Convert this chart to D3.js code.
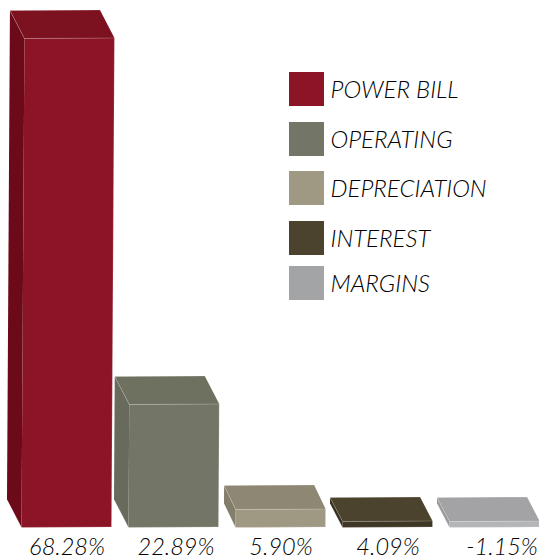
<!DOCTYPE html>
<html>
<head>
<meta charset="utf-8">
<script src="https://cdn.jsdelivr.net/npm/d3@7"></script>
<style>
    html, body { margin: 0; padding: 0; background: #fff; }
    text { font-family: "Lato", sans-serif; font-style: italic; font-weight: 300; fill: #000; }
</style>
</head>
<body>
<div id="wrapper"></div>
<script>
const categories = ["POWER BILL", "OPERATING", "DEPRECIATION", "INTEREST", "MARGINS"];
const values = [68.28, 22.89, 5.90, 4.09, -1.15];
const valueLabels = ["68.28%", "22.89%", "5.90%", "4.09%", "-1.15%"];

// front, top, side
const frontColors = ["#8b1526", "#737566", "#9f9883", "#3f3725", "#b4b5b6"];
const topColors = ["#7c1220", "#6e7060", "#8e8773", "#4c432e", "#a3a3a5"];
const sideColors = ["#6c0a19", "#686a5b", "#837e6b", "#37301f", "#9a9a9c"];
const legendColors = ["#8b1526", "#737566", "#9f9883", "#4c432e", "#a3a4a6"];

// the legend rows are not evenly spaced in the original
const legendTops = [72, 122, 171, 221, 266];
const labelShift = [0.5, 2.5, 0.5, 0.5, 7.5];

const width = 539, height = 559;
const baseline = 527.5;

const svg = d3.select("#wrapper")
    .append("svg")
    .attr("width", width)
    .attr("height", height)
    .style("display", "block");

const x = d3.scaleBand()
    .domain(categories)
    .range([21.5, 21.5 + 107 * 5 - 17])
    .paddingInner(17 / 107)
    .paddingOuter(0)
    .align(0);

// the bars in the picture are not to scale, so this is piecewise
const y = d3.scaleLinear()
    .domain([0, 1.15, 4.09, 5.90, 22.89, 68.28])
    .range([0, 6, 6, 18, 123, 489]);

const bars = svg.selectAll("g.bar")
    .data(categories)
    .enter()
    .append("g")
    .attr("class", "bar");

const poly = pts => pts.map(p => p.join(",")).join(" ");

bars.each(function(name, i) {
    const g = d3.select(this);
    const left = x(name);
    const w = x.bandwidth();
    const h = y(Math.abs(values[i]));
    const skew = h * 0.006;                 // slight lean to the right going up
    const dx = h > 100 ? 14.5 : (h > 10 ? 11.5 : 12.5);
    const dy = h > 100 ? 28 : 24;

    const fbl = [left, baseline];
    const fbr = [left + w, baseline - 0.5];
    const ftl = [left + skew, baseline - h];
    const ftr = [left + w + skew, baseline - h - 0.5];
    const btl = [ftl[0] - dx, ftl[1] - dy];
    const btr = [ftr[0] - dx, ftr[1] - dy];
    const bbl = [fbl[0] - dx, fbl[1] - dy];

    g.append("polygon").attr("points", poly([bbl, fbl, ftl, btl])).attr("fill", sideColors[i]);
    g.append("polygon").attr("points", poly([btl, btr, ftr, ftl])).attr("fill", topColors[i]);
    g.append("polygon").attr("points", poly([ftl, ftr, fbr, fbl])).attr("fill", frontColors[i]);

    // light bevel along the edges
    const edges = [[btl, btr], [btl, ftl], [ftl, ftr], [fbl, fbr], [fbr, ftr], [bbl, fbl]];
    g.selectAll("line")
        .data(edges)
        .enter()
        .append("line")
        .attr("x1", d => d[0][0])
        .attr("y1", d => d[0][1])
        .attr("x2", d => d[1][0])
        .attr("y2", d => d[1][1])
        .attr("stroke", "#fff")
        .attr("stroke-opacity", 0.22)
        .attr("stroke-width", 0.9);
});

svg.selectAll("text.value")
    .data(valueLabels)
    .enter()
    .append("text")
    .attr("class", "value")
    .attr("x", (d, i) => x(categories[i]) + x.bandwidth() / 2 + labelShift[i])
    .attr("y", 555)
    .attr("text-anchor", "middle")
    .attr("font-size", 23.5)
    .text(d => d);

const legend = svg.selectAll("g.legend")
    .data(categories)
    .enter()
    .append("g")
    .attr("class", "legend")
    .attr("transform", (d, i) => `translate(289,${legendTops[i]})`);

legend.append("rect")
    .attr("width", 35)
    .attr("height", 34)
    .attr("fill", (d, i) => legendColors[i]);

legend.append("text")
    .attr("x", 41.5)
    .attr("y", 26)
    .attr("font-size", 24)
    .text(d => d);
</script>
</body>
</html>
